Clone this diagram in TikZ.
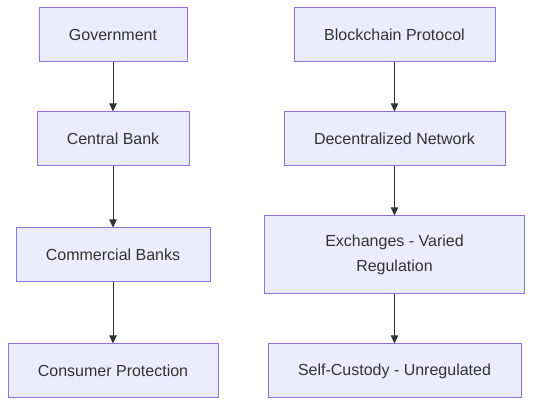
\documentclass[tikz,border=0pt]{standalone}
\usepackage{fontspec}
\setmainfont{Liberation Sans}
\usepackage{xcolor}
\usetikzlibrary{positioning,arrows.meta}
\definecolor{boxfill}{HTML}{ECECFF}
\definecolor{boxline}{HTML}{9370DB}
\definecolor{ink}{HTML}{333333}
\tikzset{
    box/.style={draw=boxline, fill=boxfill, line width=0.75pt, text=ink, font=\fontsize{12}{18.75}\selectfont, align=center, inner sep=0pt, minimum height=40.5pt},
    flow/.style={draw=ink, line width=0.75pt, -{Triangle[length=6pt,width=5.5pt]}}
}

\begin{document}
\begin{tikzpicture}[x=0.75pt, y=-0.75pt]
    \useasboundingbox (0,0) rectangle (533,406);
    % traditional finance
    \node[box, minimum width=111pt] (gov) at (113,35) {Government};
    \node[box, minimum width=114pt] (cb) at (113,139) {Central Bank};
    \node[box, minimum width=145.5pt] (banks) at (113,255) {Commercial Banks};
    \node[box, minimum width=157.5pt] (consumer) at (113,371) {Consumer Protection};
    % crypto
    \node[box, minimum width=150.75pt] (proto) at (394.5,35) {Blockchain Protocol};
    \node[box, minimum width=165.75pt] (net) at (394.5,139) {Decentralized Network};
    \node[box, minimum width=195pt, minimum height=58.5pt] (exch) at (394.5,255) {Exchanges - Varied\\Regulation};
    \node[box, minimum width=189.75pt] (custody) at (394.5,371) {Self-Custody - Unregulated};

    \draw[flow] (gov) -- (cb);
    \draw[flow] (cb) -- (banks);
    \draw[flow] (banks) -- (consumer);
    \draw[flow] (proto) -- (net);
    \draw[flow] (net) -- (exch);
    \draw[flow] (exch) -- (custody);
\end{tikzpicture}
\end{document}
